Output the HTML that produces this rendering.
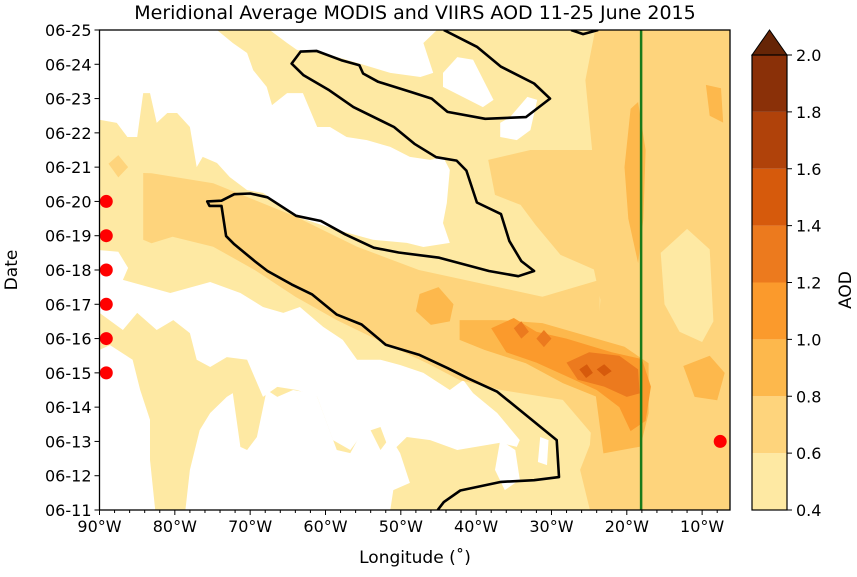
<!DOCTYPE html>
<html><head><meta charset="utf-8"><style>
body{margin:0;background:#fff}
svg text{font-family:"DejaVu Sans","Liberation Sans",sans-serif;fill:#000}
</style></head><body>
<svg id="c" width="857" height="572" viewBox="0 0 857 572" xmlns="http://www.w3.org/2000/svg">
<text x="415" y="19" font-size="19" text-anchor="middle">Meridional Average MODIS and VIIRS AOD 11-25 June 2015</text>
<g id="plot"></g>
<g id="axes"></g>
<g id="cbar"></g>
<text x="415" y="563" font-size="17" text-anchor="middle">Longitude (˚)</text>
<text transform="translate(17,270) rotate(-90)" font-size="17" text-anchor="middle">Date</text>
<text transform="translate(851,290) rotate(-90)" font-size="17" text-anchor="middle">AOD</text>
</svg>
<script>
// ---- data (lon in degrees West, date as day of June) ----
const lonTicks=[90,80,70,60,50,40,30,20,10];
const dayTicks=[11,12,13,14,15,16,17,18,19,20,21,22,23,24,25];
const levels=[0.4,0.6,0.8,1.0,1.2,1.4,1.6,1.8,2.0];
const levelColors=["#fee9a3","#fed47c","#fdb84c","#fb9a2c","#ec7a1e","#d65a0c","#b0420a","#8a3008"];
const extendColor="#662506";
const greenLon=18.1;
const dotDaysWest=[15,16,17,18,19,20];
const dotLonWest=89.1;
const dotEast=[7.6,13];
// regions below 0.4
const white1=[[90,25],[74.4,25],[72.3,24.62],[70.4,24.33],[69.6,23.83],[67.8,23.34],[67.1,22.81],[65.1,23.16],[63,23.16],[61.1,22.17],[59.4,22.17],[57.2,21.88],[54.5,21.79],[51.4,21.59],[48.8,21.3],[46.1,21.21],[44.4,21.3],[43.5,20.92],[43.9,19.95],[44.4,19.37],[43.5,18.79],[47,18.67],[49.2,18.79],[53.7,18.88],[58.5,19.17],[63.8,19.55],[68.3,20.25],[70.4,20.33],[72.7,20.71],[74.4,21.12],[76.3,21.3],[77.1,21],[78,22.17],[79.7,22.58],[81,22.58],[82.4,22.29],[83.3,23.16],[84.2,23.16],[85,21.88],[86.3,21.88],[87.7,22.29],[90,22.38]];
const white4=[[67.4,25],[45.2,25],[47,24.62],[45.7,23.75],[47.4,23.63],[51.4,23.75],[55.8,24.04],[60.3,24.33],[63.8,24.42],[65.1,24.62]];
const white5=[[44.4,23.75],[42.5,24.21],[40.4,24.13],[37.7,22.96],[39.1,22.75],[44.4,23.34]];
const white6=[[36.8,22.29],[35.5,22.46],[33.2,23.05],[31.9,22.96],[32.8,22.08],[34.6,21.79],[36.8,21.88]];
const white2=[[90,18.58],[87.5,18.53],[86.2,18.06],[86.9,17.71],[80.6,17.33],[75.3,17.65],[71.3,17.33],[68.3,16.92],[65.6,16.75],[63.4,16.92],[60.3,16.34],[57.7,15.96],[55.8,15.38],[52.7,15.38],[50.1,15.23],[47,15],[43.5,14.5],[41.7,14.79],[40.4,14.41],[37.2,13.83],[34.2,13.04],[34.6,12.84],[36.8,12.96],[42.5,12.75],[46.1,13.04],[49.2,13.13],[51.4,12.66],[52.7,13.42],[55,13.25],[56.7,12.75],[59,13.04],[61.1,14.3],[63.8,14.5],[66.4,14.59],[68.3,14.3],[70.4,15.38],[73.1,15.46],[75.3,15.17],[77.1,15.38],[78,16.16],[80.2,16.54],[82.4,16.25],[85,16.75],[86.9,16.25],[90,16.75]];
const white3a=[[90,15.67],[88.6,15.81],[85.6,15.38],[84.6,14.5],[83.3,13.63],[83.3,12.46],[82.6,11],[90,11]];
const white3b=[[78.6,11],[78,12.17],[76.7,13.33],[75.3,13.83],[73.1,14.3],[72.3,14.41],[71.3,12.84],[70.4,12.75],[69.1,13.13],[67.8,14.5],[66.4,14.3],[64.3,14.5],[62,14.41],[61.1,14.3],[58.5,12.75],[56.7,12.66],[54.5,13.54],[52.7,12.75],[51.4,13.13],[50.1,12.66],[48.8,11.79],[51,11.58],[51.4,11]];
const white7=[[36.8,13.04],[34.8,12.75],[34.2,11.88],[36.2,11.58],[37.5,12.17]];
const white8=[[31.5,13.13],[30.4,13.04],[30.6,12.31],[31.8,12.4]];
// 0.6-0.8 regions
const lvl2Band=[[84.2,20.83],[83.1,20.82],[74.9,20.53],[64,19.56],[55.8,18.68],[47.6,18],[39.4,17.61],[31.2,17.22],[23.6,17.71],[23.6,12.95],[28.5,14.21],[36.7,14.5],[42.2,14.79],[46.5,15.28],[53.1,15.96],[58.5,16.54],[64,17.22],[69.4,18],[74.9,18.68],[80.3,18.97],[83.1,18.78],[84.2,18.88]];
const lvl2Right=[[24.2,25],[6.3,25],[6.3,11],[24.9,11],[26.2,12.17],[24.9,12.9],[23.5,17.13],[25.5,19.17],[24.6,21.5],[25.5,23.54]];
const lvl2Mid=[[38.4,21.21],[32.8,21.5],[24.2,21.5],[24.2,18],[28.8,18.44],[32.1,19.31],[34.1,19.9],[37.5,20.19]];
const lvl2Left=[[88.8,21.1],[87.5,21.35],[86.2,21],[87.5,20.7]];
const lvl1Streak=[[15.5,18.5],[12,19.2],[9,18.6],[8.5,16.5],[10,15.9],[13,16.2],[15,17]];
// 0.8-1.0 regions
const lvl3Main=[[42.2,16.54],[36.7,16.54],[31.2,16.45],[20.3,15.76],[17.1,15.28],[17.1,13.82],[18.2,12.85],[23.1,12.65],[24.1,14.31],[28.5,14.7],[33.4,15.28],[38.9,15.67],[42.2,15.96]];
const lvl3Blob=[[47.5,17.3],[45,17.5],[43,17],[43.5,16.5],[46,16.4],[48,16.8]];
const lvl3Green=[[19.5,22.7],[18.5,22.9],[17.5,21.5],[17.8,19.5],[18.5,18.2],[19.8,19.5],[20.3,21]];
const lvl3East=[[12.5,15.2],[9,15.5],[7,15],[8,14.2],[11,14.3]];
const lvl3NE=[[9.5,23.4],[7.5,23.3],[7.2,22.3],[9,22.5]];
// 1.0-1.2, 1.2-1.4, 1.4-1.6
const lvl4=[[38,16.3],[35,16.6],[32,16.2],[28,16.0],[22,15.6],[18,15.4],[16.8,14.6],[17.5,13.6],[19.5,13.3],[21,14.0],[24,14.5],[28,14.9],[32,15.3],[36,15.6]];
const lvl5a=[[28,15.3],[25,15.6],[21,15.5],[18.5,15.1],[18.3,14.4],[20,14.3],[23,14.6],[26.5,14.8]];
const lvl5b=[[32,16],[31,16.25],[30,16],[31,15.75]];
const lvl5c=[[35,16.3],[34,16.5],[33,16.2],[34,16.0]];
const lvl6a=[[26.3,15.1],[25.3,15.25],[24.5,15.0],[25.4,14.85]];
const lvl6b=[[24,15.1],[23,15.25],[22,15.05],[23,14.9]];
// black contour
const contourMain=[[44.3,25],[39.9,24.51],[36.7,23.93],[32.3,23.44],[30.2,23],[33.4,22.46],[38.8,22.41],[43.8,22.61],[45.9,23],[48.6,23.19],[53,23.49],[55,23.73],[55.5,23.97],[57.9,24.12],[61.2,24.39],[63.3,24.37],[64.5,24.02],[62.9,23.68],[59.5,23.24],[56.3,22.75],[50.9,22.17],[48.2,21.68],[45.3,21.29],[42.6,21.19],[41.3,20.9],[39.9,19.97],[36.7,19.63],[35.6,18.85],[34,18.26],[32.3,17.97],[34.4,17.82],[38.3,17.97],[44.9,18.36],[50.3,18.51],[53.6,18.65],[57.4,19.04],[60.6,19.43],[63.9,19.58],[67.7,20.12],[70,20.23],[72.1,20.21],[73.8,20.02],[75.7,20],[75.4,19.87],[73.8,19.87],[73.2,18.99],[72.1,18.75],[69.4,18.26],[67.7,17.97],[64.5,17.58],[61.8,17.29],[58.5,16.7],[55.2,16.41],[52,15.82],[47.6,15.53],[43.8,15.14],[41.1,14.84],[37.2,14.45],[33.4,13.77],[29.3,13.04],[29,11.96],[32.3,11.87],[36.7,11.82],[42.1,11.57],[44.3,11.23],[45.1,11]];
const contourTop=[[27.4,25],[25.8,24.88],[23.8,25]];

// ---- axes ----
const X0=99.5,X1=730,Y0=30,Y1=510,LONMAX=90,LONMIN=6.3;
const xs=l=>X0+(LONMAX-l)/(LONMAX-LONMIN)*(X1-X0);
const ys=d=>Y1-(d-11)/14*(Y1-Y0);
const NS="http://www.w3.org/2000/svg";
function mk(tag,parent,attrs){const e=document.createElementNS(NS,tag);for(const k in attrs)e.setAttribute(k,attrs[k]);parent.appendChild(e);return e;}
const plot=document.getElementById('plot'),axes=document.getElementById('axes'),cb=document.getElementById('cbar');
const clip=mk('clipPath',plot,{id:'pc'});mk('rect',clip,{x:X0,y:Y0,width:X1-X0,height:Y1-Y0});
const g=mk('g',plot,{'clip-path':'url(#pc)'});
const pts=a=>a.map(p=>xs(p[0]).toFixed(1)+','+ys(p[1]).toFixed(1)).join(' ');
let base=mk('rect',g,{x:X0,y:Y0,width:X1-X0,height:Y1-Y0,fill:levelColors[0]});


function poly(a,fill,name){const p=mk('polygon',g,{points:pts(a),fill:fill});

}
[white1,white4,white5,white6,white2,white3a,white3b,white7,white8].forEach((a,i)=>poly(a,'#fff','low-aod-region-'+i));
[lvl2Band,lvl2Right,lvl2Mid,lvl2Left].forEach((a,i)=>poly(a,levelColors[1],'aod-0.6-region-'+i));
poly(lvl1Streak,levelColors[0],'aod-0.4-streak');
[lvl3Main,lvl3Blob,lvl3Green,lvl3East,lvl3NE].forEach((a,i)=>poly(a,levelColors[2],'aod-0.8-region-'+i));
poly(lvl4,levelColors[3],'aod-1.0-region');
[lvl5a,lvl5b,lvl5c].forEach((a,i)=>poly(a,levelColors[4],'aod-1.2-region-'+i));
[lvl6a,lvl6b].forEach((a,i)=>poly(a,levelColors[5],'aod-1.4-region-'+i));
[contourMain,contourTop].forEach((a,i)=>{const l=mk('polyline',g,{points:pts(a),fill:'none',stroke:'#000','stroke-width':2.6,'stroke-linejoin':'round'});

});
const gl=mk('line',g,{x1:xs(greenLon),x2:xs(greenLon),y1:Y0,y2:Y1,stroke:'#1a7a1a','stroke-width':2.5});


dotDaysWest.forEach(d=>{const c=mk('circle',plot,{cx:xs(dotLonWest),cy:ys(d),r:6.5,fill:'#f00'});

});
{const c=mk('circle',plot,{cx:xs(dotEast[0]),cy:ys(dotEast[1]),r:6.5,fill:'#f00'});

}
mk('rect',axes,{x:X0,y:Y0,width:X1-X0,height:Y1-Y0,fill:'none',stroke:'#000','stroke-width':1.3});
for(let l=90;l>=LONMIN;l-=2){mk('line',axes,{x1:xs(l),x2:xs(l),y1:Y1,y2:Y1+(l%10===0?5:3),stroke:'#000','stroke-width':1});}
lonTicks.forEach(l=>{const t=mk('text',axes,{x:xs(l),y:Y1+22,'font-size':16,'text-anchor':'middle'});t.textContent=l+'°W';

});
dayTicks.forEach(d=>{mk('line',axes,{x1:X0-5,x2:X0,y1:ys(d),y2:ys(d),stroke:'#000','stroke-width':1});
const t=mk('text',axes,{x:X0-8,y:ys(d)+6,'font-size':16,'text-anchor':'end'});t.textContent='06-'+d;

});
// colorbar
const CX0=752,CX1=787,CT=55,CB=510;
const cy=v=>CB-(v-levels[0])/(levels[levels.length-1]-levels[0])*(CB-CT);
levelColors.forEach((c,i)=>{const r=mk('rect',cb,{x:CX0,y:cy(levels[i+1]),width:CX1-CX0,height:cy(levels[i])-cy(levels[i+1]),fill:c});

});
mk('polygon',cb,{points:`${CX0},${CT} ${(CX0+CX1)/2},30 ${CX1},${CT}`,fill:extendColor,stroke:'#000','stroke-width':1});
mk('rect',cb,{x:CX0,y:CT,width:CX1-CX0,height:CB-CT,fill:'none',stroke:'#000','stroke-width':1.2});
levels.forEach(v=>{mk('line',cb,{x1:CX1,x2:CX1+5,y1:cy(v),y2:cy(v),stroke:'#000'});
const t=mk('text',cb,{x:CX1+9,y:cy(v)+6,'font-size':16});t.textContent=v.toFixed(1);

});
</script>
</body></html>
